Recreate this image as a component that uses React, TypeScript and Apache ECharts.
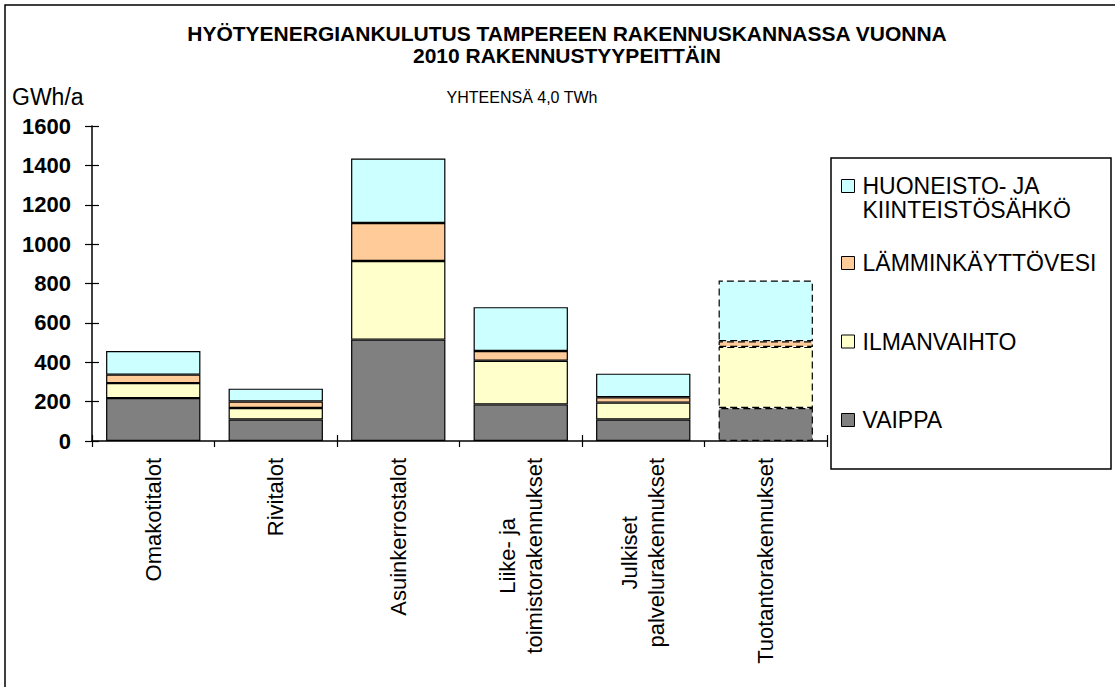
import React, { useEffect, useRef } from "react";
import * as echarts from "echarts";

const categories = [
  "Omakotitalot",
  "Rivitalot",
  "Asuinkerrostalot",
  "Liike- ja\ntoimistorakennukset",
  "Julkiset\npalvelurakennukset",
  "Tuotantorakennukset",
];
const seriesNames = ["VAIPPA", "ILMANVAIHTO", "LÄMMINKÄYTTÖVESI", "HUONEISTO- JA KIINTEISTÖSÄHKÖ"];
const vaippa = [218, 109, 515, 186, 109, 168];
const ilmanvaihto = [76, 59, 399, 222, 86, 310];
const lammin = [43, 33, 193, 49, 27, 29];
const sahko = [120, 65, 328, 223, 120, 308];
const yTicks = { min: 0, max: 1600, interval: 200 };
const colors = ["#808080", "#FFFFCC", "#FFCC99", "#CCFFFF"];
const estimatedIndex = 5; // dashed bar
const titleLines = ["HYÖTYENERGIANKULUTUS TAMPEREEN RAKENNUSKANNASSA VUONNA", "2010 RAKENNUSTYYPEITTÄIN"];

const FONT = "'Liberation Sans', Arial, Helvetica, sans-serif";

export default function App() {
  const ref = useRef<HTMLDivElement>(null);
  useEffect(() => {
    if (!ref.current) return;
    const chart = echarts.init(ref.current, undefined, { renderer: "svg" });
    const dataSets = [vaippa, ilmanvaihto, lammin, sahko];
    const series = dataSets.map((arr, si) => ({
      name: seriesNames[si],
      type: "bar",
      stack: "total",
      barWidth: "77%",
      xAxisIndex: 0,
      yAxisIndex: 0,
      itemStyle: { color: colors[si], borderColor: "#000", borderWidth: 1.2 },
      data: arr.map((v, i) =>
        i === estimatedIndex
          ? { value: v, itemStyle: { borderType: [7, 4], borderColor: "#000", borderWidth: 1.2 } }
          : v
      ),
    }));

    const legendTops = [408, 329.5, 251, 150];
    const legends = seriesNames.map((n, i) => ({
      data: [n],
      left: 841,
      top: legendTops[i],
      orient: "vertical",
      padding: 0,
      itemWidth: 13,
      itemHeight: 13,
      icon: "rect",
      selectedMode: false,
      itemStyle: { borderColor: "#000", borderWidth: 1, borderType: "solid" },
      formatter: (name: string) =>
        name === "HUONEISTO- JA KIINTEISTÖSÄHKÖ" ? "\nHUONEISTO- JA\nKIINTEISTÖSÄHKÖ" : name,
      textStyle: {
        fontFamily: FONT,
        fontSize: 23,
        lineHeight: 24,
        color: "#000",
        padding: [0, 0, 0, 3],
      },
    }));

    const titleStyle = { fontFamily: FONT, fontWeight: "bold", fontSize: 21, lineHeight: 21, color: "#000" };
    const option = {
      animation: false,
      backgroundColor: "#fff",
      title: [
        { text: titleLines[0], left: 567, top: 22.5, textAlign: "center", padding: 0, textStyle: titleStyle },
        { text: titleLines[1], left: 567, top: 44.5, textAlign: "center", padding: 0, textStyle: titleStyle },
        {
          text: "YHTEENSÄ 4,0 TWh",
          left: 522,
          top: 89,
          textAlign: "center",
          padding: 0,
          textStyle: { fontFamily: FONT, fontWeight: "normal", fontSize: 16, color: "#000" },
        },
        {
          text: "GWh/a",
          left: 12,
          top: 85,
          padding: 0,
          textStyle: { fontFamily: FONT, fontWeight: "normal", fontSize: 23, color: "#000" },
        },
      ],
      legend: legends,
      grid: { left: 92, right: 288, top: 126, bottom: 246, containLabel: false },
      xAxis: [
        {
          type: "category",
          data: categories,
          position: "bottom",
          axisLine: { show: true, lineStyle: { color: "#000", width: 1.5 } },
          axisTick: { show: true, inside: false, length: 6, lineStyle: { color: "#000", width: 1.2 } },
          axisLabel: {
            show: true,
            rotate: 90,
            margin: 17,
            interval: 0,
            color: "#000",
            fontFamily: FONT,
            fontSize: 22,
            formatter: (v: string) => v.split("\n").map((s) => `{c|${s}}`).join("\n"),
            rich: { c: { align: "center", fontFamily: FONT, fontSize: 22, lineHeight: 27, color: "#000" } },
          },
        },
        {
          type: "category",
          data: categories,
          position: "bottom",
          axisLine: { show: false },
          axisTick: { show: true, inside: true, length: 6, lineStyle: { color: "#000", width: 1.2 } },
          axisLabel: { show: false },
        },
      ],
      yAxis: [
        {
          type: "value",
          min: yTicks.min,
          max: yTicks.max,
          interval: yTicks.interval,
          position: "left",
          splitLine: { show: false },
          axisLine: { show: true, lineStyle: { color: "#000", width: 1.5 } },
          axisTick: { show: true, inside: false, length: 7, lineStyle: { color: "#000", width: 1.2 } },
          axisLabel: {
            margin: 21,
            color: "#000",
            fontFamily: FONT,
            fontSize: 22,
            fontWeight: "bold",
            formatter: (v: number) => String(v),
          },
        },
        {
          type: "value",
          min: yTicks.min,
          max: yTicks.max,
          interval: yTicks.interval,
          position: "left",
          splitLine: { show: false },
          axisLine: { show: false },
          axisTick: { show: true, inside: true, length: 7, lineStyle: { color: "#000", width: 1.2 } },
          axisLabel: { show: false },
        },
      ],
      graphic: [
        {
          type: "rect",
          silent: true,
          z: -1,
          shape: { x: 5, y: 5, width: 1125, height: 700 },
          style: { fill: "none", stroke: "#000", lineWidth: 1.5 },
        },
        {
          type: "rect",
          silent: true,
          z: -1,
          shape: { x: 831, y: 158, width: 280, height: 311 },
          style: { fill: "none", stroke: "#000", lineWidth: 1.5 },
        },
      ],
      series,
    };
    chart.setOption(option as any);
    return () => chart.dispose();
  }, []);
  return (
    <div
      ref={ref}
      style={{ position: "fixed", left: 0, top: 0, width: 1115, height: 687, background: "#fff" }}
    />
  );
}
